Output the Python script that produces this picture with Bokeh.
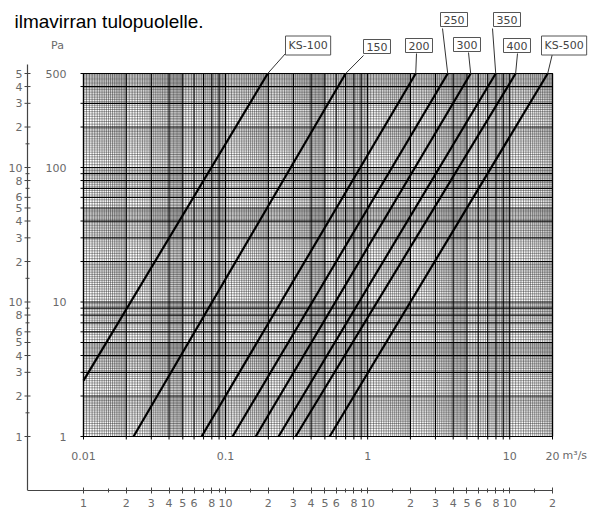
import math
from bokeh.plotting import figure
from bokeh.models import FixedTicker, Label, Range1d
from bokeh.core.properties import value
from bokeh.embed import file_html
from bokeh.resources import INLINE

# ---------------- data ----------------
series = ["KS-100", "150", "200", "250", "300", "350", "400", "KS-500"]
q_start = [0.01, 0.0225, 0.0678, 0.112, 0.163, 0.236, 0.311, 0.54]   # m3/s
p_start = [2.6, 1.0, 1.0, 1.0, 1.0, 1.0, 1.0, 1.0]                  # Pa
q_end = [0.198, 0.70, 2.18, 3.66, 5.31, 7.97, 11.0, 18.5]           # m3/s
p_end = [500, 500, 500, 500, 500, 500, 500, 500]                    # Pa

x_ticks = [0.01, 0.1, 1, 10, 20]
x_tick_labels = ["0.01", "0.1", "1", "10", "20"]
y_ticks = [1, 10, 100, 500]
y_tick_labels = ["1", "10", "100", "500"]

outer_x_ticks = [0.01, 0.02, 0.03, 0.04, 0.05, 0.06, 0.08, 0.1, 0.2, 0.3, 0.4, 0.5, 0.6, 0.8,
                 1, 2, 3, 4, 5, 6, 8, 10, 20]
outer_x_labels = ["1", "2", "3", "4", "5", "6", "8", "10", "2", "3", "4", "5", "6", "8",
                  "10", "2", "3", "4", "5", "6", "8", "10", "2"]
outer_y_ticks = [1, 2, 3, 4, 5, 6, 8, 10, 20, 30, 40, 50, 60, 80, 100, 200, 300, 400, 500]
outer_y_labels = ["1", "2", "3", "4", "5", "6", "8", "10", "2", "3", "4", "5", "6", "8",
                  "10", "2", "3", "4", "5"]
outer_y_minor = [1.5, 7, 9, 15, 70, 90, 150]
outer_x_minor = [0.015, 0.07, 0.09, 0.15, 0.7, 0.9, 1.5, 7, 9, 15]

# ---------------- geometry helpers (screen pixel -> data) ----------------
W, H = 603, 514
XMIN, XMAX, YMIN, YMAX = 0.01, 20, 1, 500
PL, PR, PT, PB = 83, 552, 73, 436            # inner chart box, px
OX, OY = 27, 490                             # outer L-shaped scale lines, px
PXD_X = (PR - PL) / math.log10(XMAX / XMIN)
PXD_Y = (PB - PT) / math.log10(YMAX / YMIN)


def X(px):
    return 10 ** (math.log10(XMIN) + (px - PL) / PXD_X)


def Y(py):
    return 10 ** (math.log10(YMIN) + (PB - py) / PXD_Y)


# graph-paper grid positions
def paper(lo, hi):
    major, minor = [], []
    fine = [1 + 0.05 * i for i in range(1, 20)] + [2 + 0.1 * i for i in range(1, 30)] + \
           [5 + 0.25 * i for i in range(1, 20)]
    d = lo
    while d < hi * 0.999:
        for k in range(1, 10):
            v = d * k
            if lo * 0.999 <= v <= hi * 1.001:
                major.append(v)
        for m in fine:
            if abs(m - round(m)) < 1e-9:
                continue
            v = d * m
            if lo <= v <= hi:
                minor.append(v)
        d *= 10
    if abs(major[-1] - hi) > 1e-9:
        major.append(hi)
    return major, minor


gx_major, gx_minor = paper(XMIN, XMAX)
gy_major, gy_minor = paper(YMIN, YMAX)

FONT = "DejaVu Sans"
GREY = "#6a6a6a"
INK = "#444444"

p = figure(width=W, height=H, x_axis_type="log", y_axis_type="log", y_axis_location=None,
           x_range=Range1d(X(0), X(W)), y_range=Range1d(Y(OY), Y(0)),
           output_backend="svg", toolbar_location=None,
           min_border_left=0, min_border_right=0, min_border_top=0, min_border_bottom=H - OY)
p.outline_line_color = None
p.xgrid.visible = False
p.ygrid.visible = False

# outer horizontal scale (real axis along the bottom)
ox = p.xaxis[0]
ox.ticker = FixedTicker(ticks=outer_x_ticks, minor_ticks=outer_x_minor)
ox.major_label_overrides = dict(zip(outer_x_ticks, outer_x_labels))
ox.bounds = (X(OX), XMAX)
ox.axis_line_color = INK
ox.axis_line_width = 1.2
ox.major_tick_in = 3
ox.major_tick_out = 3
ox.minor_tick_in = 2
ox.minor_tick_out = 2
ox.major_tick_line_color = INK
ox.minor_tick_line_color = INK
ox.major_label_standoff = 5
ox.major_label_text_font = FONT
ox.major_label_text_font_size = "11px"
ox.major_label_text_color = GREY

# outer vertical scale (drawn with glyphs)
p.segment(x0=[X(OX)], y0=[Y(OY)], x1=[X(OX)], y1=[Y(64)], line_color=INK, line_width=1.2)
p.segment(x0=[X(OX - 3)] * len(outer_y_ticks), y0=outer_y_ticks,
          x1=[X(OX + 3)] * len(outer_y_ticks), y1=outer_y_ticks, line_color=INK, line_width=1)
p.segment(x0=[X(OX - 2)] * len(outer_y_minor), y0=outer_y_minor,
          x1=[X(OX + 2)] * len(outer_y_minor), y1=outer_y_minor, line_color=INK, line_width=1)
p.text(x=[X(OX - 5)] * len(outer_y_ticks), y=outer_y_ticks, text=outer_y_labels,
       text_align="right", text_baseline="middle", text_font=value(FONT),
       text_font_size="11px", text_color=GREY)

# graph-paper grid
nxm, nxM, nym, nyM = len(gx_minor), len(gx_major), len(gy_minor), len(gy_major)
p.segment(x0=gx_minor, y0=[YMIN] * nxm, x1=gx_minor, y1=[YMAX] * nxm,
          line_color="black", line_alpha=0.75, line_width=0.5)
p.segment(x0=[XMIN] * nym, y0=gy_minor, x1=[XMAX] * nym, y1=gy_minor,
          line_color="black", line_alpha=0.75, line_width=0.5)
p.segment(x0=gx_major, y0=[YMIN] * nxM, x1=gx_major, y1=[YMAX] * nxM,
          line_color="black", line_alpha=1.0, line_width=1.2)
p.segment(x0=[XMIN] * nyM, y0=gy_major, x1=[XMAX] * nyM, y1=gy_major,
          line_color="black", line_alpha=1.0, line_width=1.2)
# small ticks outside the chart box
p.segment(x0=gx_major, y0=[Y(PB + 3)] * nxM, x1=gx_major, y1=[YMIN] * nxM,
          line_color="black", line_width=1)
p.segment(x0=[X(PL - 3)] * nyM, y0=gy_major, x1=[XMIN] * nyM, y1=gy_major,
          line_color="black", line_width=1)
# chart box
p.quad(left=[XMIN], right=[XMAX], bottom=[YMIN], top=[YMAX], fill_color=None,
       line_color="black", line_width=1.2)

# inner tick labels
p.text(x=[X(66)] * len(y_ticks), y=y_ticks, text=y_tick_labels, text_align="right",
       text_baseline="middle", text_font=value(FONT), text_font_size="11px", text_color=GREY)
p.text(x=x_ticks, y=[Y(455)] * len(x_ticks), text=x_tick_labels, text_align="center",
       text_baseline="middle", text_font=value(FONT), text_font_size="11px", text_color=GREY)

# characteristic lines
p.segment(x0=q_start, y0=p_start, x1=q_end, y1=p_end, line_color="black", line_width=2.2)

# labels with boxes + leaders (px positions)
box_left = [282, 360, 402, 437, 450, 490, 500, 538]
box_cy = [45, 46, 45, 19, 44, 19, 45, 45]
leader_x = [285, 363, 416, 442, 468, 492, 517, 552]
leader_y = [53, 55, 53, 28, 52, 28, 53, 53]
p.segment(x0=[X(v) for v in leader_x], y0=[Y(v) for v in leader_y], x1=q_end, y1=p_end,
          line_color="#333333", line_width=1)
for name, bl, cy in zip(series, box_left, box_cy):
    p.add_layout(Label(x=X(bl + 3), y=Y(cy), text=name, text_align="left",
                       text_baseline="middle", text_font=FONT, text_font_size="11px",
                       text_color=INK, border_line_color="#555555",
                       border_line_width=1, background_fill_color="white", padding=3))

p.add_layout(Label(x=X(57), y=Y(45), text="Pa", text_align="center", text_baseline="middle",
                   text_font=FONT, text_font_size="11px", text_color=GREY))
p.add_layout(Label(x=X(562), y=Y(455), text="m³/s", text_align="left", text_baseline="middle",
                   text_font=FONT, text_font_size="11px", text_color=GREY))
p.add_layout(Label(x=X(14), y=Y(21), text="ilmavirran tulopuolelle.", text_align="left",
                   text_baseline="alphabetic", text_font="Liberation Sans",
                   text_font_size="19px", text_color="black"))

open("out.html", "w").write(file_html(p, INLINE))
